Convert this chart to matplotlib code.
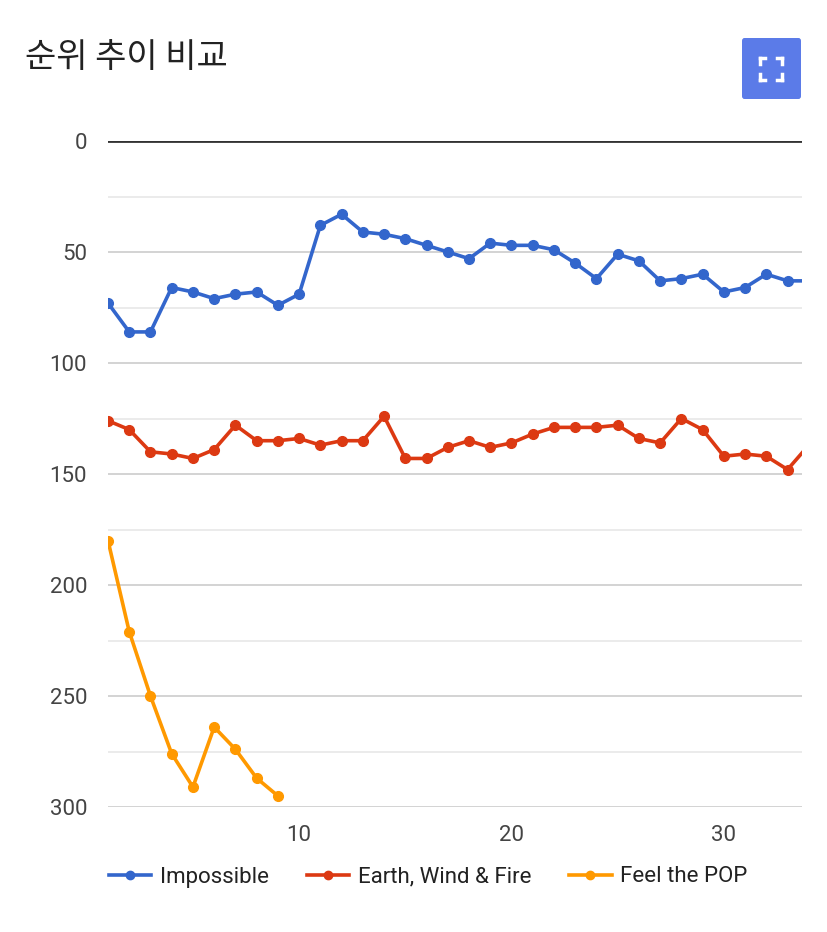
import matplotlib.pyplot as plt
from matplotlib.patches import FancyBboxPatch
from matplotlib.lines import Line2D

plt.rcParams['font.family'] = ['Roboto', 'Noto Sans CJK KR', 'DejaVu Sans']

# rank data (week index -> rank)
weeks = list(range(1, 35))
impossible = [73, 86, 86, 66, 68, 71, 69, 68, 74, 69, 38, 33, 41, 42, 44, 47, 50,
              53, 46, 47, 47, 49, 55, 62, 51, 54, 63, 62, 60, 68, 66, 60, 63, 63]
earth_wind_fire = [126, 130, 140, 141, 143, 139, 128, 135, 135, 134, 137, 135, 135,
                   124, 143, 143, 138, 135, 138, 136, 132, 129, 129, 129, 128, 134,
                   136, 125, 130, 142, 141, 142, 148, 137]
feel_weeks = list(range(1, 10))
feel_the_pop = [180, 221, 250, 276, 291, 264, 274, 287, 295]

series_names = ['Impossible', 'Earth, Wind & Fire', 'Feel the POP']
colors = ['#3366cc', '#dc3912', '#ff9900']

fig = plt.figure(figsize=(8.28, 9.32), dpi=100)
ax = fig.add_axes([108 / 828, 1 - 807 / 932, (802 - 108) / 828, (807 - 141) / 932])

# gridlines
for v in range(25, 300, 25):
    ax.axhline(v, color='#cccccc' if v % 50 == 0 else '#e8e8e8', lw=1.2, zorder=0)
ax.axhline(300, color='#cccccc', lw=1.2, zorder=0)
ax.axhline(0, color='#333333', lw=2, zorder=1)

ax.plot(weeks, impossible, color=colors[0], lw=2.6, marker='o', ms=7)
ax.plot(weeks, earth_wind_fire, color=colors[1], lw=2.6, marker='o', ms=7)
ax.plot(feel_weeks, feel_the_pop, color=colors[2], lw=2.6, marker='o', ms=7)

ax.set_xlim(1, 33.68)
ax.set_ylim(300, 0)
ax.set_yticks([0, 50, 100, 150, 200, 250, 300])
ax.set_xticks([10, 20, 30])
ax.tick_params(length=0, labelsize=16, labelcolor='#444444')
ax.tick_params(axis='y', pad=15)
ax.tick_params(axis='x', pad=13)
for s in ax.spines.values():
    s.set_visible(False)

# title
fig.text(25 / 828, 1 - 57 / 932, '순위 추이 비교', fontsize=24.5, color='#222222',
         va='center', ha='left', family=['Noto Sans CJK KR', 'DejaVu Sans'])

# fullscreen button
btn = FancyBboxPatch((742 / 828, 1 - 99 / 932), 59 / 828, 61 / 932,
                     boxstyle='round,pad=0,rounding_size=0.003',
                     transform=fig.transFigure, facecolor='#5b7be8', edgecolor='none')
fig.patches.append(btn)
cx, cy = 771.5, 68.5
for sx in (-1, 1):
    for sy in (-1, 1):
        x0, y0 = cx + sx * 11, cy + sy * 11
        fig.add_artist(Line2D([x0 / 828, x0 / 828], [1 - y0 / 932, 1 - (y0 - sy * 6) / 932],
                              color='white', lw=2.5, transform=fig.transFigure))
        fig.add_artist(Line2D([x0 / 828, (x0 - sx * 5) / 828], [1 - y0 / 932, 1 - y0 / 932],
                              color='white', lw=2.5, transform=fig.transFigure))

# legend
handles = [Line2D([], [], color=c, lw=2.6, marker='o', ms=6) for c in colors]
fig.legend(handles, series_names, loc='center left', ncol=3,
           bbox_to_anchor=(109 / 828, 1 - 877 / 932), frameon=False, borderpad=0,
           borderaxespad=0, fontsize=16, handlelength=1.9, handletextpad=0.4,
           columnspacing=1.7, labelcolor='#222222')

fig.savefig('out.png', dpi=100, facecolor='white')
